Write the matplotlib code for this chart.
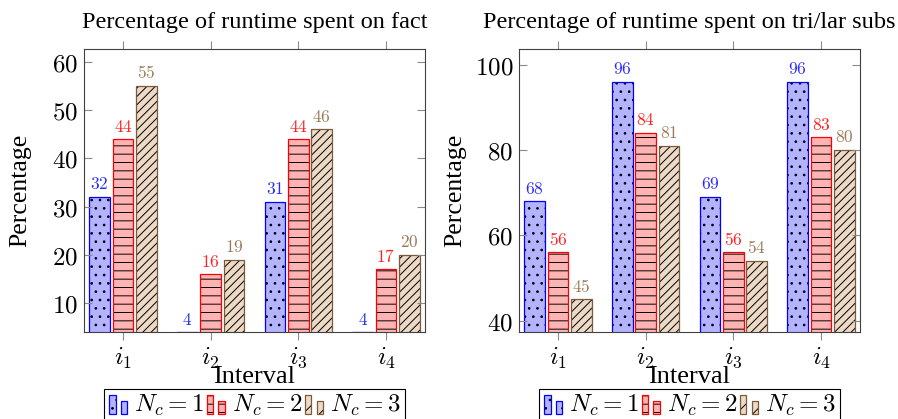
import numpy as np
import matplotlib
matplotlib.use('Agg')
import matplotlib.pyplot as plt
from matplotlib.patches import Rectangle
from matplotlib.legend_handler import HandlerBase

plt.rcParams['mathtext.fontset'] = 'cm'
plt.rcParams['hatch.linewidth'] = 0.7

# data
intervals = ['$i_1$', '$i_2$', '$i_3$', '$i_4$']
series = ['$N_c = 1$', '$N_c = 2$', '$N_c = 3$']

fact_n1 = [32, 4, 31, 4]
fact_n2 = [44, 16, 44, 17]
fact_n3 = [55, 19, 46, 20]

subs_n1 = [68, 96, 69, 96]
subs_n2 = [56, 84, 56, 83]
subs_n3 = [45, 81, 54, 80]

styles = [
    dict(face='#b3b3ff', edge='blue', hatch='..', text='#2a2aff'),
    dict(face='#ffb3b3', edge='red', hatch='--', text='#ff2020'),
    dict(face='#ecd9c6', edge='#7a5a3a', hatch='////', text='#9c7a58'),
]

SERIF = 'Liberation Serif'


class TwoBars(HandlerBase):
    # pgfplots style ybar legend icon: two small bars
    def create_artists(self, legend, orig_handle, xdescent, ydescent,
                       width, height, fontsize, trans):
        st = orig_handle.st
        arts = []
        bw = width * 0.3
        for x0, h in [(width * 0.05, height * 1.2), (width * 0.6, height * 0.8)]:
            y0 = -height * 0.1
            r1 = Rectangle((x0, y0), bw, h, facecolor=st['face'], edgecolor='black',
                           linewidth=0, hatch=st['hatch'][:2], transform=trans)
            r2 = Rectangle((x0, y0), bw, h, fill=False, edgecolor=st['edge'],
                           linewidth=0.9, transform=trans)
            arts += [r1, r2]
        return arts


def draw_panel(ax, title, values, ylim, yticks):
    x = np.arange(len(intervals))
    for k, (vals, st) in enumerate(zip(values, styles)):
        pos = x + (k - 1) * 0.266
        ax.bar(pos, vals, width=0.236, color=st['face'], edgecolor='black',
               linewidth=0, hatch=st['hatch'])
        bars = ax.bar(pos, vals, width=0.236, fill=False, edgecolor=st['edge'], linewidth=0.9)
        ax.bar_label(bars, labels=['$%d$' % v for v in vals], padding=2.5,
                     color=st['text'], fontsize=12.5)
    ax.set_xlim(-0.445, 3.445)
    ax.set_ylim(*ylim)
    ax.set_xticks(x)
    ax.set_xticklabels(intervals)
    ax.set_yticks(yticks)
    ax.set_yticklabels(['$%d$' % t for t in yticks])
    ax.tick_params(axis='y', direction='in', left=True, right=True, length=6,
                   color='#8a8a8a', labelsize=18, pad=4)
    ax.tick_params(axis='x', direction='out', top=True, bottom=True, length=6,
                   color='#8a8a8a', labelsize=18, pad=4)
    for s in ax.spines.values():
        s.set_color('#404040')
        s.set_linewidth(0.8)
    ax.set_title(title, fontfamily=SERIF, fontsize=17.5, pad=15)
    ax.set_xlabel('Interval', fontfamily=SERIF, fontsize=19)
    ax.xaxis.set_label_coords(0.5, -0.12)
    ax.set_ylabel('Percentage', fontfamily=SERIF, fontsize=18.5)
    ax.yaxis.set_label_coords(-0.155, 0.5)

    handles = []
    for st in styles:
        h = Rectangle((0, 0), 1, 1)
        h.st = st
        handles.append(h)
    leg = ax.legend(handles, series, handler_map={Rectangle: TwoBars()},
                    loc='upper center', bbox_to_anchor=(0.5, -0.203), ncol=3,
                    fontsize=18, frameon=True, fancybox=False, framealpha=1,
                    edgecolor='black', borderpad=0.15, handlelength=0.85,
                    handleheight=0.6, handletextpad=0.2, columnspacing=0.05,
                    borderaxespad=0)
    leg.get_frame().set_linewidth(0.8)


fig = plt.figure(figsize=(8.98, 4.19), dpi=100)
ax1 = fig.add_axes([84 / 898, 87 / 419, 341 / 898, 283 / 419])
ax2 = fig.add_axes([519 / 898, 87 / 419, 341 / 898, 283 / 419])

draw_panel(ax1, 'Percentage of runtime spent on fact',
           [fact_n1, fact_n2, fact_n3], (4, 62.65), [10, 20, 30, 40, 50, 60])
draw_panel(ax2, 'Percentage of runtime spent on tri/lar subs',
           [subs_n1, subs_n2, subs_n3], (37.35, 103.65), [40, 60, 80, 100])

fig.savefig('out.png', dpi=100)
